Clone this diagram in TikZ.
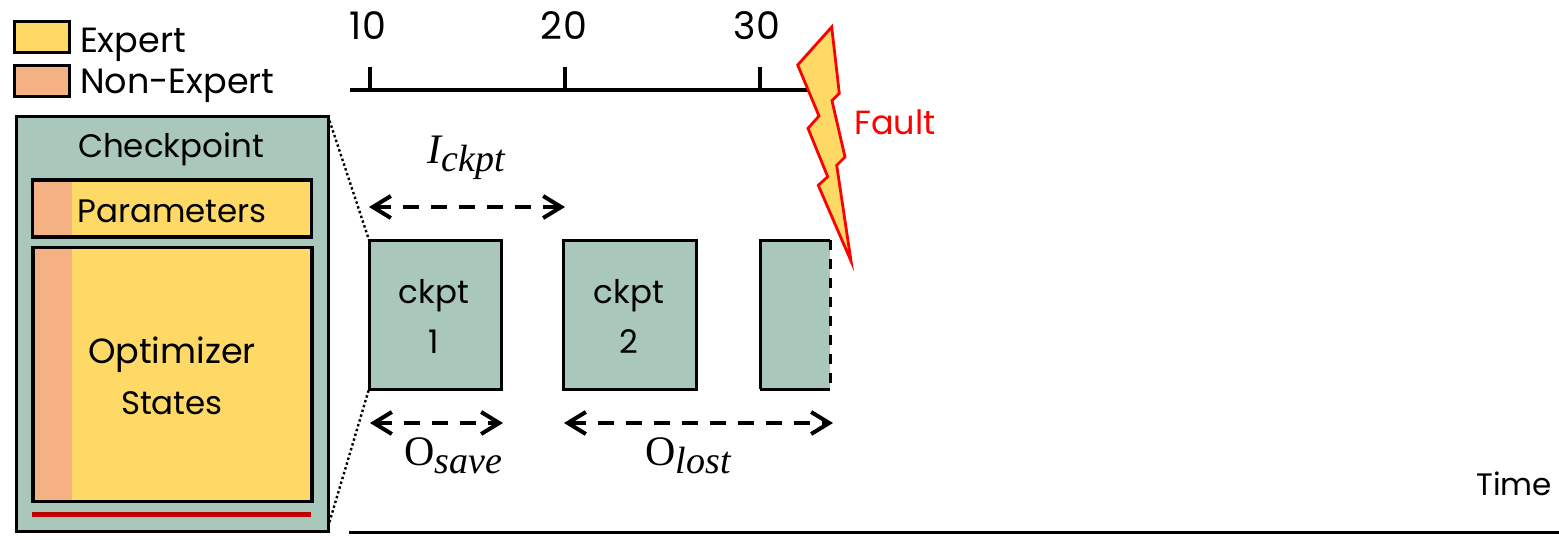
\documentclass[tikz,border=0pt]{standalone}
\usepackage{fontspec}
\setmainfont{Poppins}
\newfontfamily\mathserif{Liberation Serif}
\usetikzlibrary{arrows.meta,calc}
\definecolor{expertc}{HTML}{FFD966}
\definecolor{nonexpc}{HTML}{F4B183}
\definecolor{ckptc}{HTML}{A9C8BB}
\definecolor{redline}{HTML}{C00000}
\newcommand{\mainsym}[1]{{\fontsize{42}{46}\selectfont\mathserif #1}}
\newcommand{\subsym}[1]{\raisebox{-8.5pt}{\fontsize{38}{40}\selectfont\mathserif\itshape #1}}
\tikzset{
  x=1pt,y=1pt,
  box/.style={draw=black,line width=3.2pt,inner sep=0pt,outer sep=0pt,rectangle},
  expertbox/.style={box,fill=expertc},
  nonexpbox/.style={box,fill=nonexpc},
  ckptbox/.style={box,fill=ckptc,line width=3pt},
  lab/.style={inner sep=0pt,outer sep=0pt,anchor=base,font=\fontsize{32.5}{36}\selectfont},
  leglab/.style={inner sep=0pt,outer sep=0pt,anchor=base west,font=\fontsize{35}{38}\selectfont},
  numlab/.style={inner sep=0pt,outer sep=0pt,anchor=base,font=\fontsize{38}{40}\selectfont},
  mathlab/.style={inner sep=0pt,outer sep=0pt,anchor=base},
  axisline/.style={line width=3.5pt,black},
  tickline/.style={line width=3.5pt,black},
  span/.style={line width=3.5pt,black,dash pattern=on 16pt off 12pt,
    {Straight Barb[length=18pt,width=22pt,line width=4pt]}-{Straight Barb[length=18pt,width=22pt,line width=4pt]}},
  zoomline/.style={line width=2.4pt,black,dash pattern=on 2.4pt off 2.6pt},
}
\begin{document}
\begin{tikzpicture}
\useasboundingbox (0,0) rectangle (1559,-539);
% legend
\node[expertbox,minimum width=55pt,minimum height=31pt] (legE) at (42,-37) {};
\node[nonexpbox,minimum width=55pt,minimum height=31pt] (legN) at (42,-81) {};
\node[leglab] (tE) at (80,-52) {Expert};
\node[leglab] (tN) at (80,-93) {Non-Expert};
% checkpoint panel
\node[ckptbox,minimum width=312pt,minimum height=415pt] (panel) at (172,-323.5) {};
\node[lab] (tC) at (171,-157) {Checkpoint};
\node[expertbox,minimum width=279pt,minimum height=57pt] (params) at (172,-208.5) {};
\fill[nonexpc] (33.6,-181.6) rectangle (72,-235.4);
\node[lab] (tP) at (172,-222) {Parameters};
\node[expertbox,minimum width=279pt,minimum height=254pt] (opt) at (172.5,-374.5) {};
\fill[nonexpc] (34.6,-248.6) rectangle (72,-500);
\node[lab,font=\fontsize{35}{38}\selectfont] (tO) at (172,-363) {Optimizer};
\node[lab] (tS) at (172,-414) {States};
\coordinate (redL) at (32,-514.5);
\coordinate (redR) at (311,-514.5);
\draw[redline,line width=5pt] (redL) -- (redR);
% ruler
\coordinate (rulerL) at (350,-90);
\coordinate (rulerR) at (808,-90);
\draw[axisline] (rulerL) -- (rulerR);
\coordinate (t1) at (370,-90); \coordinate (t1u) at (370,-67);
\coordinate (t2) at (565,-90); \coordinate (t2u) at (565,-67);
\coordinate (t3) at (760,-90); \coordinate (t3u) at (760,-67);
\draw[tickline] (t1) -- (t1u);
\draw[tickline] (t2) -- (t2u);
\draw[tickline] (t3) -- (t3u);
\node[numlab] (n10) at (368,-39) {1\kern1.5pt0};
\node[numlab] (n20) at (564,-39) {2\kern1.5pt0};
\node[numlab] (n30) at (757,-39) {3\kern1.5pt0};
% checkpoints
\node[ckptbox,minimum width=132pt,minimum height=149pt] (c1) at (435,-314.5) {};
\node[ckptbox,minimum width=133pt,minimum height=149pt] (c2) at (629.5,-314.5) {};
\node[lab] (c1a) at (434,-303) {ckpt};
\node[lab] (c1b) at (434,-353) {1};
\node[lab] (c2a) at (629,-303) {ckpt};
\node[lab] (c2b) at (629,-353) {2};
\fill[ckptc] (760,-240) rectangle (830,-389);
\draw[line width=3pt] (830,-240) -- (760,-240) -- (760,-389);
\draw[line width=3pt] (760,-389) -- (830,-389);
\draw[line width=3pt,dash pattern=on 10pt off 9pt] (830,-240) -- (830,-389);
\node[inner sep=0pt,outer sep=0pt,minimum width=71pt,minimum height=149pt] (c3) at (795,-314.5) {};
% zoom lines
\coordinate (panelLow) at (328,-527);
\draw[zoomline] (panel.north east) -- (c1.north west);
\draw[zoomline] (panelLow) -- (c1.south west);
% spans
\coordinate (iL) at (369,-207); \coordinate (iR) at (565,-207);
\coordinate (sL) at (370,-423); \coordinate (sR) at (503,-423);
\coordinate (lL) at (564,-423); \coordinate (lR) at (833,-423);
\draw[span] (iL) -- (iR);
\draw[span] (sL) -- (sR);
\draw[span] (lL) -- (lR);
\node[mathlab] (mI) at (466,-163) {\mainsym{\itshape I}\subsym{ckpt}};
\node[mathlab] (mS) at (453,-465) {\mainsym{O}\subsym{save}};
\node[mathlab] (mL) at (688,-465) {\mainsym{O}\subsym{lost}};
% bolt
\draw[red,line width=2.8pt,fill=expertc,miter limit=20]
 (831.7,-27) -- (797.7,-65) -- (819,-116) -- (808,-128.3) -- (827.7,-176.7)
 -- (818.3,-185.3) -- (851,-261) -- (836.7,-165.3) -- (845,-157)
 -- (832,-100.7) -- (839.3,-93.3) -- cycle;
\node[lab,text=red,font=\fontsize{33.5}{36}\selectfont] (tF) at (895,-134) {Fault};
% time axis
\coordinate (timeL) at (349,-532.5);
\coordinate (timeR) at (1559,-532.5);
\draw[axisline] (timeL) -- (timeR);
\node[lab,font=\fontsize{31}{34}\selectfont] (tT) at (1514,-495) {Time};
\end{tikzpicture}
\end{document}
